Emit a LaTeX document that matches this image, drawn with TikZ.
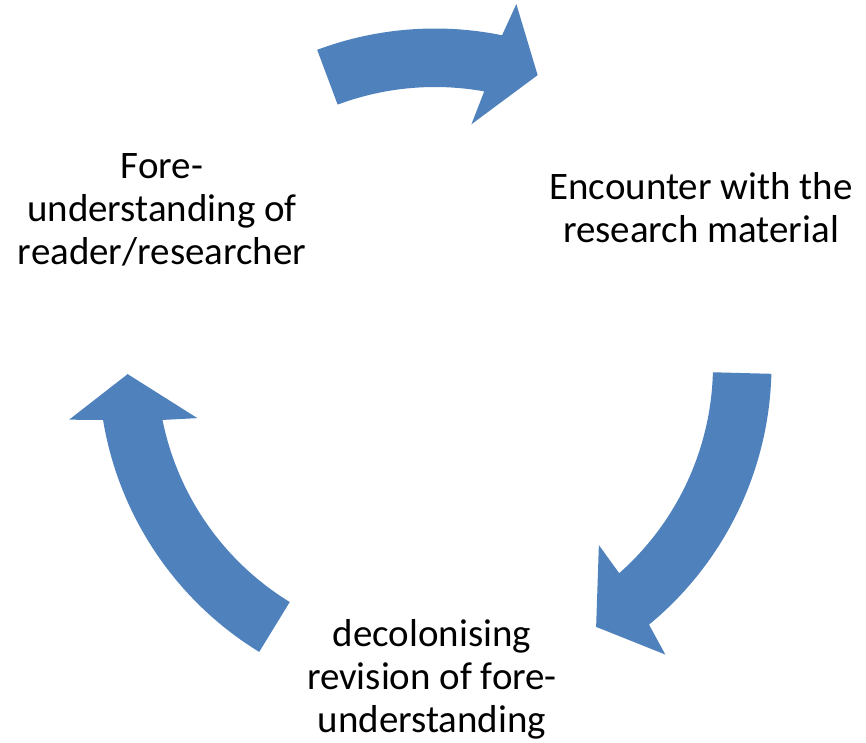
\documentclass[tikz,border=0pt]{standalone}
\usepackage{fontspec}
\setmainfont{Carlito}
\usepackage{tikz}
\definecolor{smartblue}{HTML}{4F81BD}

\begin{document}
\begin{tikzpicture}[
    x=0.75pt, y=-0.75pt,
    cyclearrow/.style={fill=smartblue, draw=none},
    stagenode/.style={align=center, inner sep=0pt, font=\fontsize{29.2}{32.3}\selectfont}
    ]
    \useasboundingbox (0,0) rectangle (866,742);

    %Centre of the cycle
    \coordinate (cen) at (435,365);

    %Text nodes
    \node[stagenode]    (fore)      at (162,210) {Fore-\\understanding of\\reader/researcher};
    \node[stagenode]    (encounter) at (701,208) {Encounter with the\\research material};
    \node[stagenode]    (revision)  at (432,679) {decolonising\\revision of fore-\\understanding};

    %Arrows
    \begin{scope}[shift={(cen)}]
    % fore -> encounter
    \fill[cyclearrow] (-110.5:336.5) arc[start angle=-110.5, end angle=-78.5, radius=336.5]
        -- (-77.3:370) -- (-70.5:307.5) -- (-81.4:243.5) -- (-79.8:278)
        arc[start angle=-79.8, end angle=-110.5, radius=278] -- cycle;
    % encounter -> revision
    \fill[cyclearrow] (1.5:336.5) arc[start angle=1.5, end angle=50.5, radius=336.5]
        -- (51.5:370) -- (58.4:307.5) -- (47.7:243.5) -- (48.5:278)
        arc[start angle=48.5, end angle=1.5, radius=278] -- cycle;
    % revision -> fore
    \fill[cyclearrow] (121.5:336.5) arc[start angle=121.5, end angle=170.6, radius=336.5]
        -- (171.5:370) -- (178.3:307.5) -- (167.4:243.5) -- (168.6:278)
        arc[start angle=168.6, end angle=121.5, radius=278] -- cycle;
    \end{scope}

\end{tikzpicture}
\end{document}
